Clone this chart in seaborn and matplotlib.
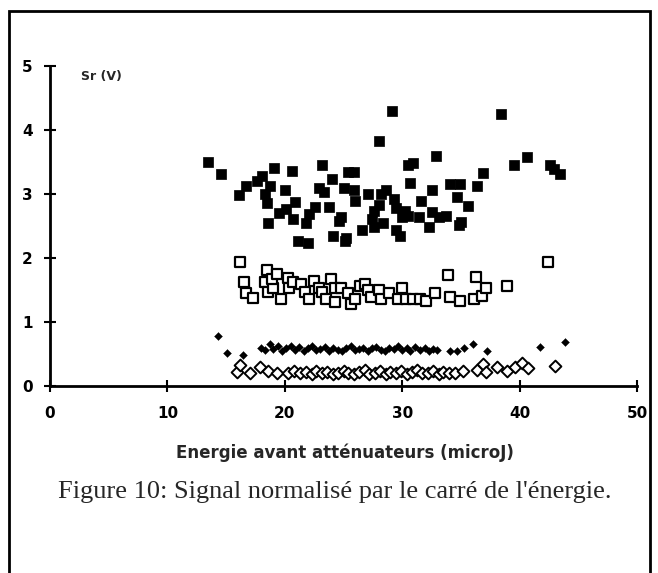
import matplotlib
matplotlib.use("Agg")
import matplotlib.pyplot as plt
import seaborn as sns
from matplotlib.patches import Rectangle

# ---- data ----
fsq_x = [13.5, 14.6, 16.1, 16.7, 17.6, 18.1, 18.3, 18.5, 18.7, 18.6, 19.1, 19.5, 20.0, 20.1,
         20.6, 20.7, 20.9, 21.1, 21.8, 22.0, 22.1, 22.6, 22.9, 23.2, 23.3, 23.75, 24.0, 24.1,
         24.6, 24.8, 25.0, 25.1, 25.25, 25.4, 25.9, 25.9, 26.0, 26.6, 27.1, 27.4, 27.6, 27.6,
         28.0, 28.0, 28.2, 28.4, 28.6, 29.1, 29.3, 29.5, 29.5, 29.8, 30.0, 30.2, 30.5, 30.7,
         30.5, 30.9, 31.4, 31.6, 32.3, 32.5, 32.5, 32.9, 33.1, 33.75, 34.1, 34.7, 34.8, 35.0,
         34.9, 35.6, 36.4, 36.9, 38.4, 39.5, 40.6, 42.6, 42.9, 43.4]
fsq_y = [3.50, 3.32, 2.99, 3.12, 3.20, 3.28, 3.00, 2.86, 3.12, 2.54, 3.40, 2.71, 3.07, 2.77,
         3.36, 2.61, 2.87, 2.27, 2.55, 2.24, 2.69, 2.79, 3.09, 3.46, 3.03, 2.79, 3.24, 2.35,
         2.58, 2.64, 3.09, 2.27, 2.32, 3.34, 3.34, 3.06, 2.89, 2.43, 3.00, 2.61, 2.73, 2.48,
         3.83, 2.83, 3.00, 2.54, 3.06, 4.30, 2.92, 2.78, 2.44, 2.34, 2.64, 2.73, 3.46, 3.17,
         2.66, 3.49, 2.64, 2.89, 2.49, 3.06, 2.72, 3.60, 2.64, 2.66, 3.15, 2.95, 2.51, 2.56,
         3.15, 2.82, 3.13, 3.33, 4.25, 3.46, 3.58, 3.45, 3.39, 3.32]

osq_x = [16.2, 16.5, 16.7, 17.3, 18.5, 18.3, 18.6, 19.0, 18.9, 19.3, 19.7, 20.3, 20.4, 20.7,
         21.4, 21.7, 22.1, 22.5, 22.9, 23.2, 23.5, 23.9, 24.3, 24.3, 24.8, 25.4, 25.6, 26.0,
         26.4, 26.8, 27.1, 27.3, 28.0, 28.2, 28.9, 29.6, 30.0, 30.3, 30.9, 31.5, 32.0, 32.8,
         33.9, 34.1, 34.9, 36.1, 36.25, 36.8, 37.1, 38.9, 42.4]
osq_y = [1.94, 1.62, 1.45, 1.37, 1.81, 1.62, 1.47, 1.53, 1.67, 1.75, 1.36, 1.68, 1.53, 1.62,
         1.59, 1.47, 1.36, 1.64, 1.53, 1.47, 1.36, 1.67, 1.53, 1.32, 1.53, 1.45, 1.28, 1.36,
         1.56, 1.59, 1.50, 1.39, 1.50, 1.36, 1.45, 1.36, 1.53, 1.36, 1.36, 1.36, 1.33, 1.45,
         1.73, 1.39, 1.33, 1.36, 1.70, 1.41, 1.53, 1.56, 1.93]

fdi_x = [14.3, 15.1, 16.4, 18.0, 18.3, 18.7, 19.0, 19.4, 19.8, 20.1, 20.5, 20.9, 21.2, 21.6,
         22.0, 22.3, 22.7, 23.0, 23.4, 23.8, 24.1, 24.5, 24.9, 25.2, 25.6, 26.0, 26.3, 26.7,
         27.1, 27.4, 27.8, 28.2, 28.5, 28.9, 29.3, 29.6, 30.0, 30.4, 30.7, 31.1, 31.5, 31.9,
         32.3, 32.6, 33.0, 34.1, 34.7, 35.3, 36.0, 37.2, 41.7, 43.9]
fdi_y = [0.78, 0.52, 0.48, 0.60, 0.56, 0.65, 0.58, 0.62, 0.55, 0.60, 0.63, 0.57, 0.61, 0.55,
         0.59, 0.62, 0.56, 0.58, 0.61, 0.54, 0.60, 0.57, 0.55, 0.59, 0.62, 0.56, 0.58, 0.60,
         0.55, 0.59, 0.61, 0.57, 0.54, 0.60, 0.58, 0.62, 0.56, 0.59, 0.55, 0.61, 0.57, 0.59,
         0.55, 0.58, 0.56, 0.54, 0.55, 0.60, 0.65, 0.55, 0.61, 0.68]

odi_x = [15.9, 16.2, 17.0, 17.9, 18.6, 19.3, 20.3, 20.8, 21.3, 21.8, 22.3, 22.7, 23.2, 23.6,
         24.1, 24.5, 25.0, 25.4, 25.9, 26.3, 26.8, 27.2, 27.7, 28.1, 28.6, 29.0, 29.5, 29.9,
         30.4, 30.8, 31.3, 31.7, 32.2, 32.6, 33.1, 33.5, 34.0, 34.5, 35.2, 36.4, 36.9, 37.1,
         38.1, 38.9, 39.6, 40.2, 40.7, 43.0]
odi_y = [0.22, 0.33, 0.21, 0.30, 0.23, 0.20, 0.21, 0.24, 0.20, 0.22, 0.19, 0.23, 0.21, 0.22,
         0.19, 0.21, 0.24, 0.20, 0.18, 0.22, 0.25, 0.19, 0.21, 0.23, 0.18, 0.22, 0.20, 0.24,
         0.19, 0.22, 0.25, 0.20, 0.21, 0.23, 0.19, 0.22, 0.20, 0.21, 0.23, 0.25, 0.34, 0.22,
         0.30, 0.24, 0.30, 0.36, 0.28, 0.32]

x_ticks = [0, 10, 20, 30, 40, 50]
y_ticks = [0, 1, 2, 3, 4, 5]
x_label = "Energie avant atténuateurs (microJ)"
y_label = "Sr (V)"
caption = "Figure 10: Signal normalisé par le carré de l'énergie."

# ---- plot ----
sns.set_theme(style="white")
plt.rcParams['font.family'] = ['DejaVu Sans']

W, H = 658, 573
fig = plt.figure(figsize=(W / 100, H / 100), dpi=100)
ax = fig.add_axes([50 / W, 1 - 386 / H, 587 / W, 320 / H])

sns.scatterplot(x=fsq_x, y=fsq_y, ax=ax, marker="s", s=50, color="black",
                edgecolor="black", linewidth=0.5, zorder=3)
sns.scatterplot(x=osq_x, y=osq_y, ax=ax, marker="s", s=60, facecolor="white",
                edgecolor="black", linewidth=1.6, zorder=3)
sns.scatterplot(x=odi_x, y=odi_y, ax=ax, marker="D", s=36, facecolor="white",
                edgecolor="black", linewidth=1.4, zorder=3)
sns.scatterplot(x=fdi_x, y=fdi_y, ax=ax, marker="D", s=16, color="black",
                edgecolor="black", linewidth=0.3, zorder=3)

ax.set_xlim(0, 50)
ax.set_ylim(0, 5)
ax.set_xticks(x_ticks)
ax.set_yticks(y_ticks)
ax.set_xticklabels([str(t) for t in x_ticks], fontweight="bold", fontsize=11)
ax.set_yticklabels([str(t) for t in y_ticks], fontweight="bold", fontsize=11)
ax.tick_params(axis="both", direction="inout", length=9, width=1.5, color="black",
               labelcolor="black", bottom=True, left=True)
ax.tick_params(axis="x", pad=10)
ax.tick_params(axis="y", pad=8)
for side in ["top", "right"]:
    ax.spines[side].set_visible(False)
for side in ["left", "bottom"]:
    ax.spines[side].set_color("black")
    ax.spines[side].set_linewidth(2)

ax.text(2.6, 4.83, y_label, fontsize=9, fontweight="bold", ha="left", va="center")
ax.set_xlabel("")
ax.set_ylabel("")

fig.text(345 / W, 1 - 453 / H, x_label, fontsize=12, fontweight="bold",
         ha="center", va="center")
fig.text(335 / W, 1 - 492 / H, caption, fontsize=19, family="Liberation Serif",
         ha="center", va="center")

fig.add_artist(Rectangle((9 / W, -0.05), (650 - 9) / W, 1 - 11 / H + 0.05,
                         transform=fig.transFigure, fill=False, lw=2, ec="black"))

fig.savefig("out.png", dpi=100)
